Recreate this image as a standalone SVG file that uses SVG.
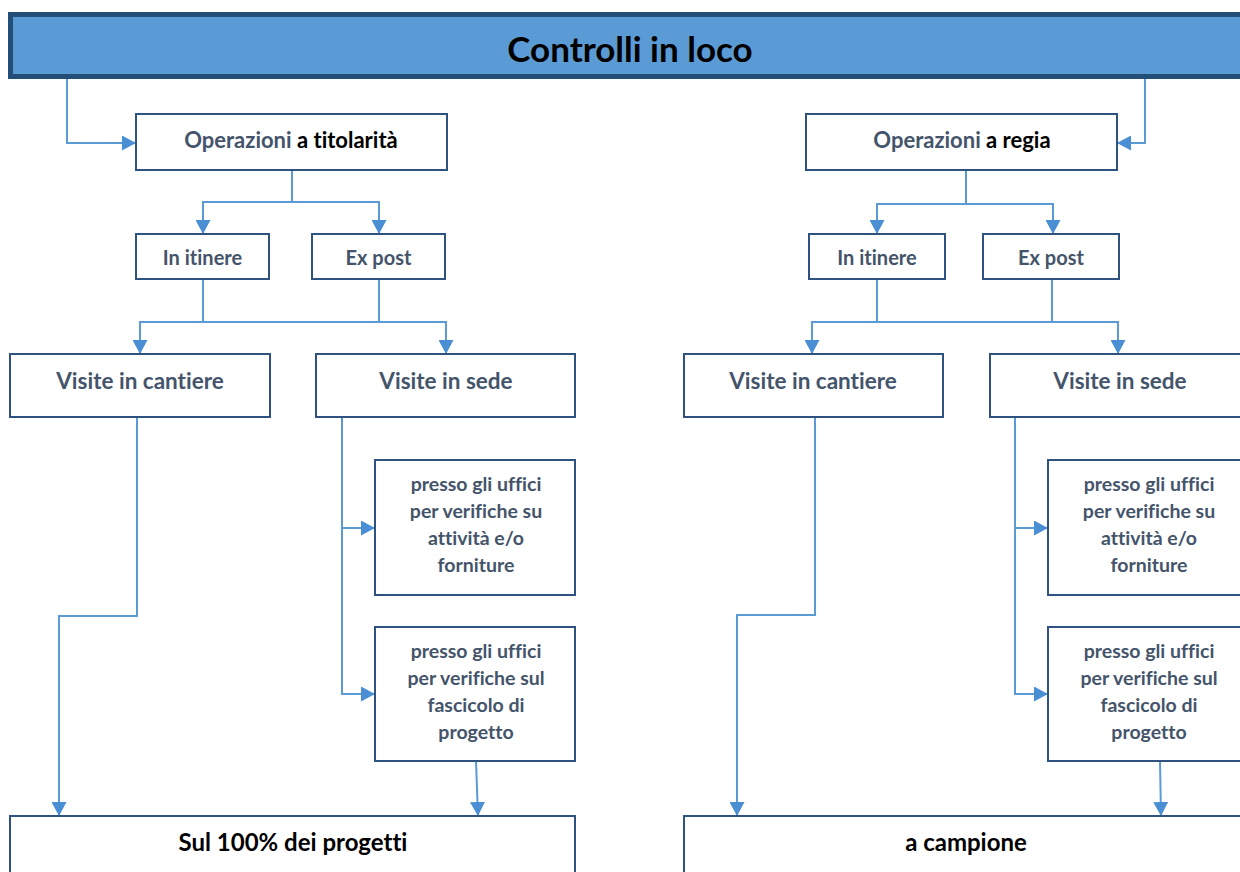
<svg xmlns="http://www.w3.org/2000/svg" width="1240" height="872" viewBox="0 0 1240 872">
<style>
text{font-family:Lato,"Open Sans","Liberation Sans",sans-serif;font-weight:bold;text-anchor:middle;fill:#44546A;font-variant-ligatures:none}
.k{fill:#000}
.box{fill:#fff;stroke:#2F5380;stroke-width:2}
.c{fill:none;stroke:#5B9BD5;stroke-width:2}
.t1{font-size:35px}
.t2{font-size:22px}
.t3{font-size:20px}
.t4{font-size:22.5px}
.t5{font-size:19.5px}
.t6{font-size:24px}
</style>
<defs>
<marker id="ah" markerUnits="userSpaceOnUse" markerWidth="15" markerHeight="15" refX="14" refY="7.5" orient="auto">
<path d="M0,0 L14,7.5 L0,15 z" fill="#4A8FD3"/>
</marker>
</defs>
<rect width="1240" height="872" fill="#fff"/>
<g id="title">
<rect x="10.5" y="14.5" width="1240" height="62" fill="#5B9BD5" stroke="#234E77" stroke-width="5"/>
<text class="t1 k" x="630" y="62">Controlli in loco</text>
</g>
<g id="connectors">
<path class="c" d="M67,79 V143 H136" marker-end="url(#ah)"/>
<path class="c" d="M292,171 V202 H203 V234" marker-end="url(#ah)"/>
<path class="c" d="M292,202 H379 V234" marker-end="url(#ah)"/>
<path class="c" d="M203,279 V322 H140 V354" marker-end="url(#ah)"/>
<path class="c" d="M203,322 H446 V354" marker-end="url(#ah)"/>
<path class="c" d="M379,279 V322"/>
<path class="c" d="M137,418 V616 H59 V816" marker-end="url(#ah)"/>
<path class="c" d="M342,418 V528 H375" marker-end="url(#ah)"/>
<path class="c" d="M342,528 V694 H375" marker-end="url(#ah)"/>
<path class="c" d="M476,761 L478,816" marker-end="url(#ah)"/>
<path class="c" d="M1145,79 V143 H1117" marker-end="url(#ah)"/>
<path class="c" d="M966,171 V204 H877 V234" marker-end="url(#ah)"/>
<path class="c" d="M966,204 H1053 V234" marker-end="url(#ah)"/>
<path class="c" d="M877,279 V322 H812 V354" marker-end="url(#ah)"/>
<path class="c" d="M877,322 H1118 V354" marker-end="url(#ah)"/>
<path class="c" d="M1052,279 V322"/>
<path class="c" d="M815,418 V615 H737 V816" marker-end="url(#ah)"/>
<path class="c" d="M1015,418 V528 H1048" marker-end="url(#ah)"/>
<path class="c" d="M1015,528 V694 H1048" marker-end="url(#ah)"/>
<path class="c" d="M1160,761 L1161,816" marker-end="url(#ah)"/>
</g>
<g id="op-titolarita">
<rect class="box" x="136" y="114" width="311" height="56"/>
<text class="t2" x="291" y="148">Operazioni <tspan class="k">a titolarità</tspan></text>
</g>
<g id="op-regia">
<rect class="box" x="806" y="114" width="311" height="56"/>
<text class="t2" x="962" y="148">Operazioni <tspan class="k">a regia</tspan></text>
</g>
<g id="itinere-l">
<rect class="box" x="136" y="234" width="133" height="45"/>
<text class="t3" x="202.5" y="265">In itinere</text>
</g>
<g id="expost-l">
<rect class="box" x="312" y="234" width="133" height="45"/>
<text class="t3" x="378.5" y="265">Ex post</text>
</g>
<g id="itinere-r">
<rect class="box" x="809" y="234" width="136" height="45"/>
<text class="t3" x="877" y="265">In itinere</text>
</g>
<g id="expost-r">
<rect class="box" x="983" y="234" width="136" height="45"/>
<text class="t3" x="1051" y="265">Ex post</text>
</g>
<g id="cantiere-l">
<rect class="box" x="10" y="354" width="260" height="63"/>
<text class="t4" x="140" y="389">Visite in cantiere</text>
</g>
<g id="sede-l">
<rect class="box" x="316" y="354" width="259" height="63"/>
<text class="t4" x="446" y="389">Visite in sede</text>
</g>
<g id="cantiere-r">
<rect class="box" x="684" y="354" width="259" height="63"/>
<text class="t4" x="813" y="389">Visite in cantiere</text>
</g>
<g id="sede-r">
<rect class="box" x="990" y="354" width="262" height="63"/>
<text class="t4" x="1120" y="389">Visite in sede</text>
</g>
<g id="uffici-attivita-l">
<rect class="box" x="375" y="460" width="200" height="135"/>
<text class="t5" x="476"><tspan x="476" y="491">presso gli uffici</tspan><tspan x="476" y="518">per verifiche su</tspan><tspan x="476" y="545">attività e/o</tspan><tspan x="476" y="572">forniture</tspan></text>
</g>
<g id="uffici-fascicolo-l">
<rect class="box" x="375" y="627" width="200" height="134"/>
<text class="t5" x="476"><tspan x="476" y="658">presso gli uffici</tspan><tspan x="476" y="685">per verifiche sul</tspan><tspan x="476" y="712">fascicolo di</tspan><tspan x="476" y="739">progetto</tspan></text>
</g>
<g id="uffici-attivita-r">
<rect class="box" x="1048" y="460" width="204" height="135"/>
<text class="t5" x="1149"><tspan x="1149" y="491">presso gli uffici</tspan><tspan x="1149" y="518">per verifiche su</tspan><tspan x="1149" y="545">attività e/o</tspan><tspan x="1149" y="572">forniture</tspan></text>
</g>
<g id="uffici-fascicolo-r">
<rect class="box" x="1048" y="627" width="204" height="134"/>
<text class="t5" x="1149"><tspan x="1149" y="658">presso gli uffici</tspan><tspan x="1149" y="685">per verifiche sul</tspan><tspan x="1149" y="712">fascicolo di</tspan><tspan x="1149" y="739">progetto</tspan></text>
</g>
<g id="sul-100">
<rect class="box" x="10" y="816" width="565" height="70"/>
<text class="t6 k" x="293" y="851">Sul 100% dei progetti</text>
</g>
<g id="campione">
<rect class="box" x="684" y="816" width="568" height="70"/>
<text class="t6 k" x="966" y="851">a campione</text>
</g>
</svg>
